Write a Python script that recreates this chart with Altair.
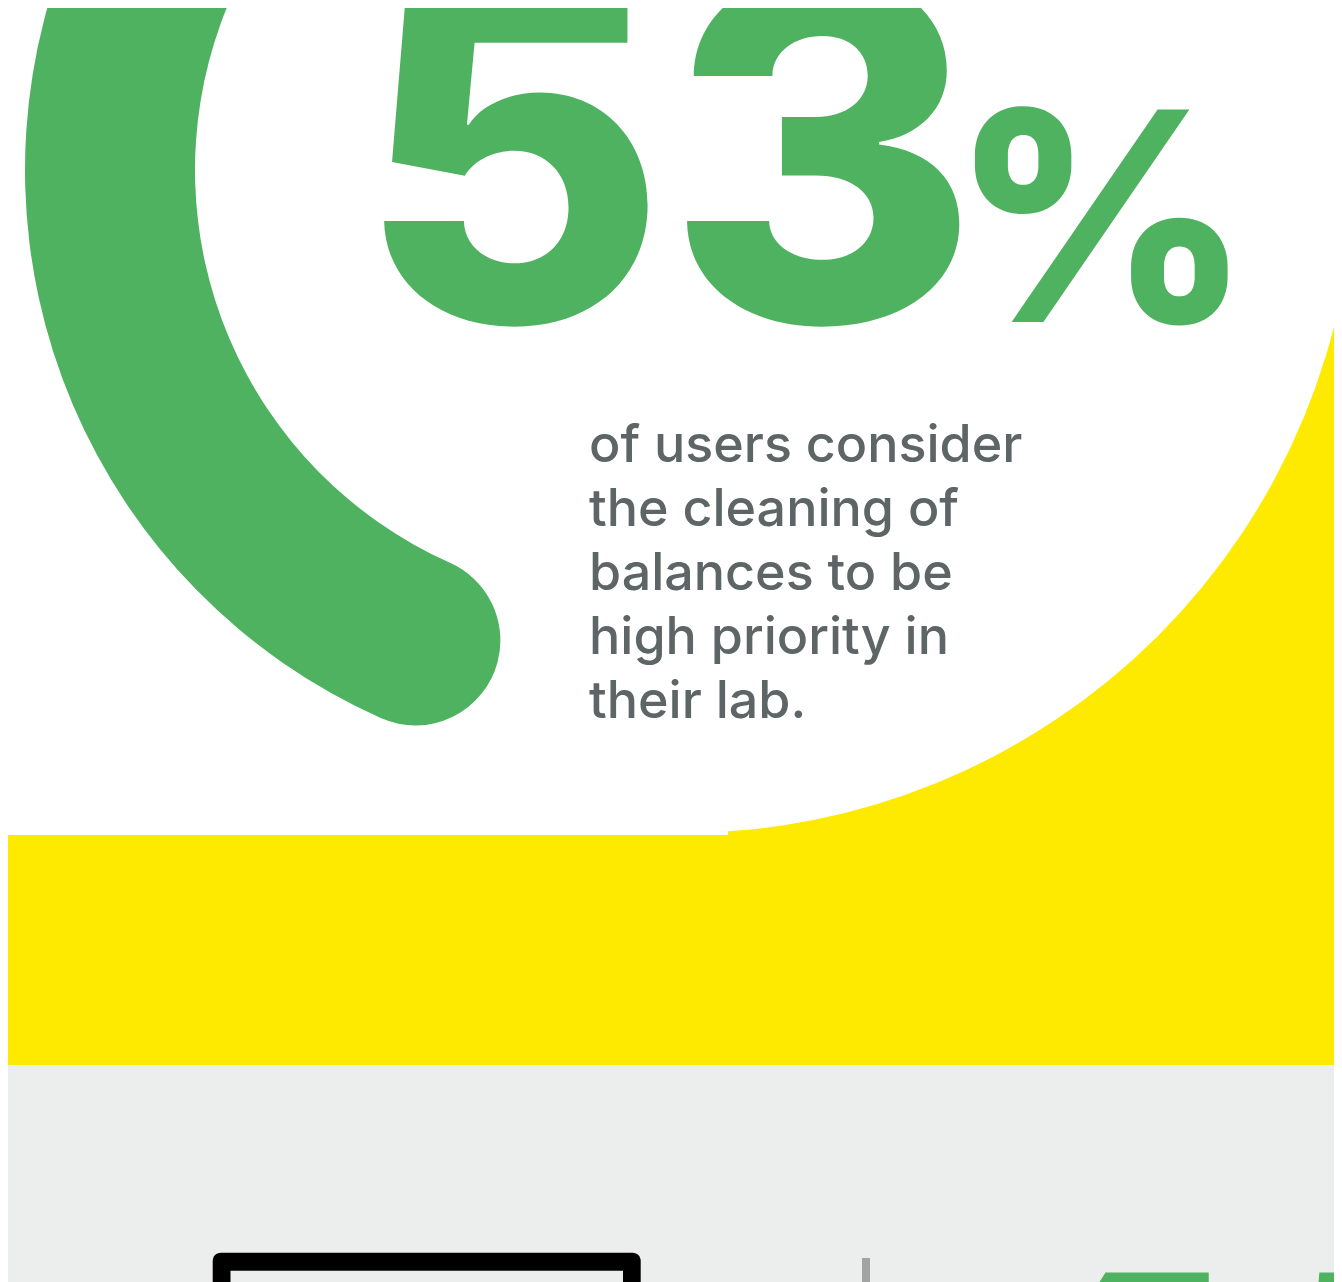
import math
import altair as alt
import pandas as pd

# ---------------- values ----------------
STAT_VALUE = [53]                 # percent shown by the big number and the ring
STAT_SUFFIX = ["%"]
STAT_LINES = ["of users consider", "the cleaning of", "balances to be",
              "high priority in", "their lab."]
NEXT_STAT = ["45"]                # next (cropped) statistic at the bottom

# ---------------- layout (reference pixel space) ----------------
X0, X1 = 8, 1334
Y0, Y1 = 8, 1282
W, H = X1 - X0, Y1 - Y0

GREEN = "#4FB260"
YELLOW = "#FDEA00"
PALE = "#ECEEED"
TEXT_GRAY = "#5E6566"

xs = alt.Scale(domain=[X0, X1], nice=False, zero=False)
ys = alt.Scale(domain=[Y0, Y1], nice=False, zero=False, reverse=True)


def ex(f):
    return alt.X(f"{f}:Q", scale=xs, axis=None)


def ey(f):
    return alt.Y(f"{f}:Q", scale=ys, axis=None)


def rects(df, **mk):
    return alt.Chart(df).mark_rect(**mk).encode(
        x=ex("x"), x2="x2", y=ey("y"), y2="y2",
        color=alt.Color("c:N", scale=None))


under = rects(pd.DataFrame({
    "x": [0, 0], "x2": [1400, 728],
    "y": [150, -100], "y2": [1065, 835],
    "c": [YELLOW, "#FFFFFF"]}))

circle = alt.Chart(pd.DataFrame({"cx": [682], "cy": [160]})).mark_arc(
    color="#FFFFFF").encode(
    x=ex("cx"), y=ey("cy"),
    theta=alt.value(0), theta2=alt.value(2 * math.pi),
    radius=alt.value(673))

bands = rects(pd.DataFrame({
    "x": [0, 0], "x2": [1400, 1400],
    "y": [835, 1065], "y2": [1065, 1400],
    "c": [YELLOW, PALE]}))

box_outer = rects(pd.DataFrame({"x": [212.7], "x2": [640.7], "y": [1252.7],
                                "y2": [1400], "c": ["#000000"]}), cornerRadius=8)
box_inner = rects(pd.DataFrame({"x": [230.5], "x2": [623], "y": [1270.7],
                                "y2": [1400], "c": [PALE]}))
divider = rects(pd.DataFrame({"x": [862], "x2": [870], "y": [1258],
                              "y2": [1400], "c": ["#A2A3A3"]}))

# ring: 53 % of a full turn, starting at the bottom-left rounded end
ring = alt.Chart(pd.DataFrame({"pct": STAT_VALUE, "cx": [625], "cy": [170]})
                 ).transform_calculate(
    t1="3.395",
    t2="3.395 + 2 * PI * datum.pct / 100",
).mark_arc(color=GREEN, cornerRadius=85).encode(
    x=ex("cx"), y=ey("cy"),
    theta=alt.Theta("t1:Q", scale=None, stack=None),
    theta2="t2:Q",
    radius=alt.value(600), radius2=alt.value(430))

big = alt.Chart(pd.DataFrame({"t": [str(v) for v in STAT_VALUE],
                              "x": [357], "y": [322]})).mark_text(
    font="Inter", fontWeight=800, fontSize=475, color=GREEN,
    align="left", baseline="alphabetic").encode(
    x=ex("x"), y=ey("y"), text="t:N")

pct = alt.Chart(pd.DataFrame({"t": STAT_SUFFIX, "x": [951], "y": [322]})
                ).mark_text(
    font="Inter", fontWeight=800, fontSize=292, color=GREEN,
    align="left", baseline="alphabetic").encode(
    x=ex("x"), y=ey("y"), text="t:N")

body = alt.Chart(pd.DataFrame({"t": ["\n".join(STAT_LINES)],
                               "x": [589], "y": [462]})).mark_text(
    font="Inter", fontWeight=500, fontSize=52, lineHeight=64,
    lineBreak="\n", color=TEXT_GRAY,
    align="left", baseline="alphabetic").encode(
    x=ex("x"), y=ey("y"), text="t:N")

nxt = alt.Chart(pd.DataFrame({"t": NEXT_STAT, "x": [942], "y": [1618]})
                ).mark_text(
    font="Inter", fontWeight=800, fontSize=475, color=GREEN,
    align="left", baseline="alphabetic").encode(
    x=ex("x"), y=ey("y"), text="t:N")

chart = alt.layer(
    under, circle, bands, box_outer, box_inner, divider, ring, big, pct, body, nxt
).properties(
    width=W, height=H, padding=0,
    autosize=alt.AutoSizeParams(type="none"),
    background="#FFFFFF",
).configure_view(stroke=None, strokeWidth=0)

chart.save("out.html", embed_options={"renderer": "svg", "actions": False})
